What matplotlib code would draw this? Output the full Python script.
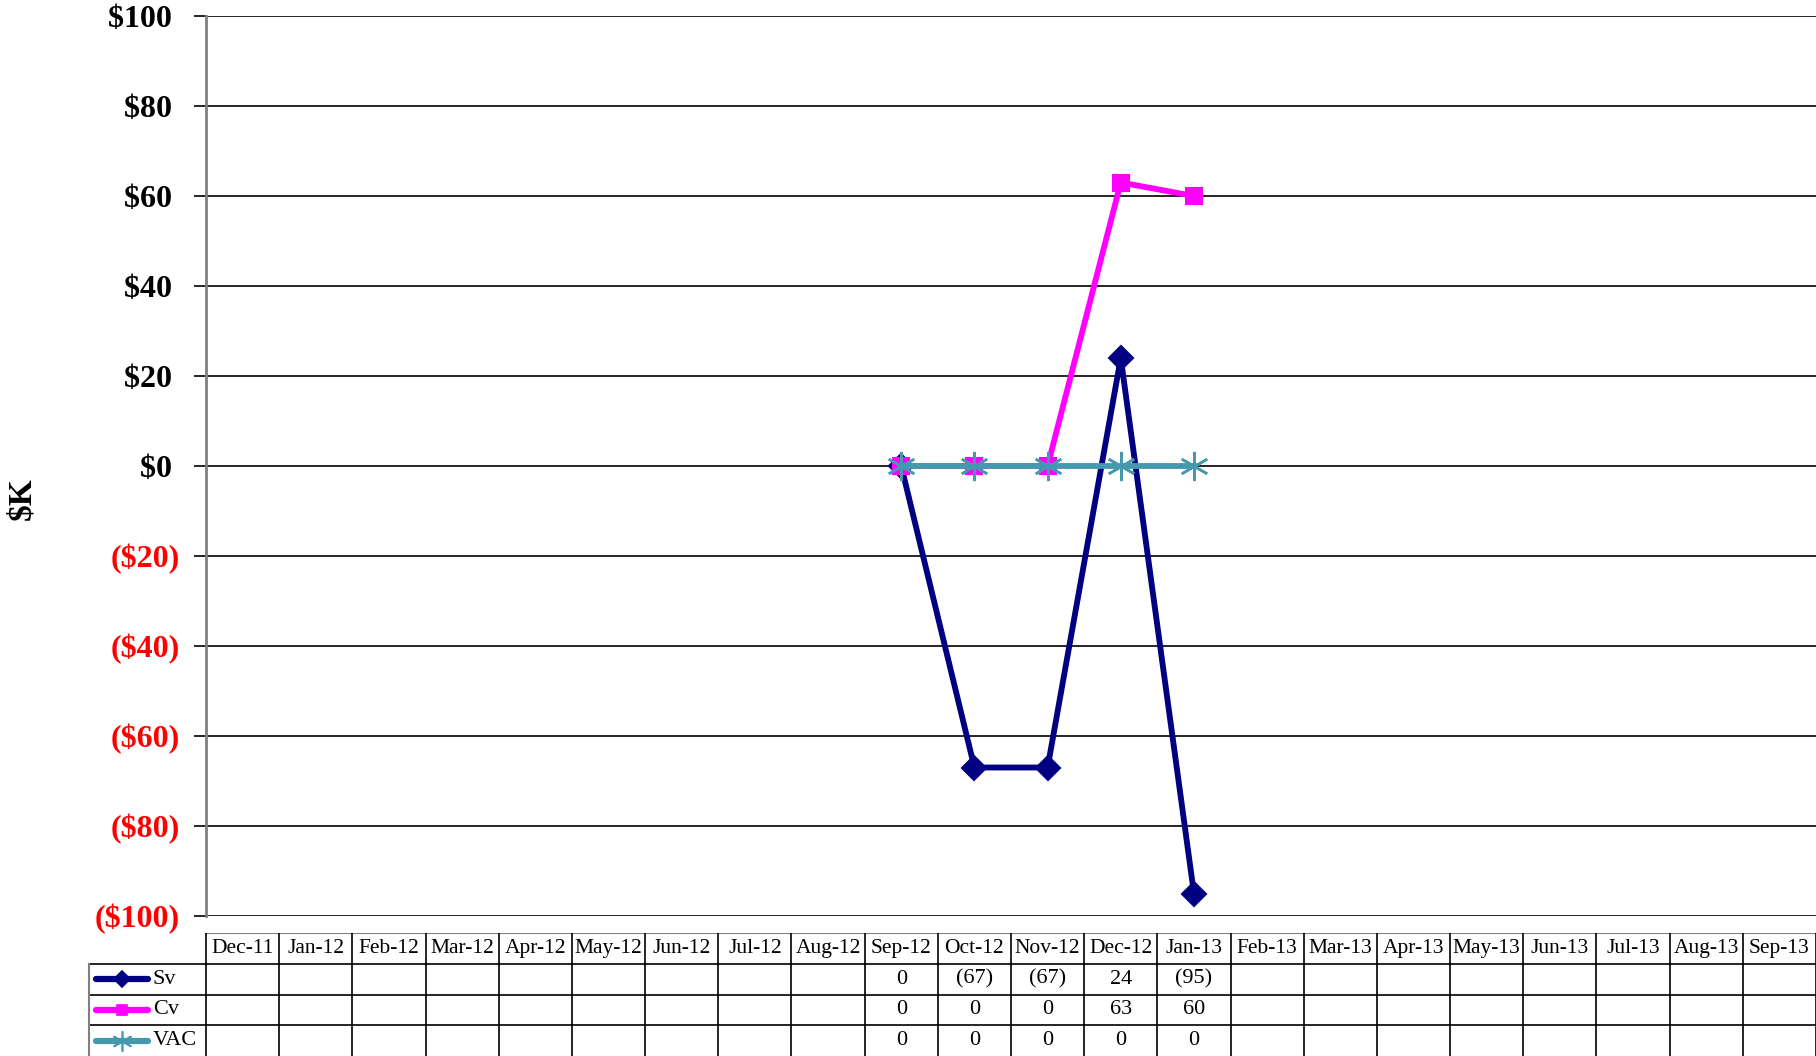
import numpy as np
import matplotlib
matplotlib.use('Agg')
import matplotlib.pyplot as plt

months = ['Dec-11', 'Jan-12', 'Feb-12', 'Mar-12', 'Apr-12', 'May-12', 'Jun-12',
          'Jul-12', 'Aug-12', 'Sep-12', 'Oct-12', 'Nov-12', 'Dec-12', 'Jan-13',
          'Feb-13', 'Mar-13', 'Apr-13', 'May-13', 'Jun-13', 'Jul-13', 'Aug-13', 'Sep-13']
nan = np.nan
sv = [nan]*9 + [0, -67, -67, 24, -95] + [nan]*8
cv = [nan]*9 + [0, 0, 0, 63, 60] + [nan]*8
vac = [nan]*9 + [0, 0, 0, 0, 0] + [nan]*8
yticks = [100, 80, 60, 40, 20, 0, -20, -40, -60, -80, -100]

plt.rcParams['font.family'] = ['Liberation Serif', 'DejaVu Serif']

W, H = 1816, 1056
fig = plt.figure(figsize=(W/100, H/100), dpi=100)

# plot area in pixels
L, R, T, B = 206, 1816, 16, 916
ax = fig.add_axes([L/W, (H-B)/H, (R-L)/W, (B-T)/H])
x = np.arange(len(months))

series = [
    ('Sv', sv, '#000080', 'D', 12, 1.5),
    ('Cv', cv, '#FF00FF', 's', 11, 1.5),
    ('VAC', vac, '#4599AE', (6, 2, 0), 21, 1.8),
]
for name, vals, col, mk, ms, mw in series:
    ax.plot(x, vals, color=col, lw=4.2, marker=mk, ms=ms, mec=col, mfc=col, mew=mw,
            clip_on=False, zorder=3)

ax.set_xlim(-0.5, len(months)-0.5)
ax.set_ylim(-100, 100)
ax.set_yticks(yticks)
for t in yticks:
    ax.axhline(t, color='black', lw=1.2, zorder=1)

labs = []
for t in yticks:
    if t < 0:
        labs.append('(${})'.format(-t))
    else:
        labs.append('${} '.format(t))
ax.set_yticklabels(labs, fontsize=23, fontweight='bold')
for lab, t in zip(ax.get_yticklabels(), yticks):
    lab.set_color('#FF0000' if t < 0 else 'black')
ax.tick_params(axis='y', length=9, width=1.2, pad=10)
ax.set_xticks([])
for s in ['top', 'right', 'bottom']:
    ax.spines[s].set_visible(False)
ax.spines['left'].set_color('#808080')
ax.spines['left'].set_linewidth(2)

fig.text(22/W, (H-499)/H, '$K', rotation=90, fontsize=24, fontweight='bold',
         ha='center', va='center')

# data table under the chart
colw = (R-L)/len(months)
tb_top = 933
tax = fig.add_axes([0, 0, 1, (H-tb_top)/H])
tax.set_xlim(-0.5 - L/colw, len(months)-0.5)
tax.set_ylim(0, 4)
tax.axis('off')

leg_l = -0.5 - (L-89)/colw
gray = '#808080'
# horizontal lines
tax.plot([-0.5, len(months)-0.5], [4, 4], color=gray, lw=1.5)
for yy in [3, 2, 1]:
    tax.plot([leg_l, len(months)-0.5], [yy, yy], color='black', lw=1.2)
tax.plot([leg_l, leg_l], [0, 3], color=gray, lw=1.5)
for i in range(len(months)+1):
    tax.plot([i-0.5, i-0.5], [0, 4], color='black', lw=1.2)

for i, m in enumerate(months):
    tax.text(i, 3.5, m, ha='center', va='center', fontsize=15.5)

def fmt(v):
    if np.isnan(v):
        return ''
    v = int(round(v))
    return '({})'.format(-v) if v < 0 else str(v)

for r, (name, vals, col, mk, ms, mw) in enumerate(series):
    yy = 2.5 - r
    for i, v in enumerate(vals):
        tax.text(i, yy, fmt(v), ha='center', va='center', fontsize=16)
    x0 = leg_l + (96-89)/colw
    x1 = leg_l + (148-89)/colw
    tax.plot([x0, x1], [yy, yy], color=col, lw=4.5, solid_capstyle='round')
    tax.plot([(x0+x1)/2], [yy], color=col, marker=mk, ms=ms*0.7, mec=col, mfc=col, mew=1.2)
    tax.text(leg_l + (153-89)/colw, yy, name, ha='left', va='center', fontsize=16)

fig.savefig('out.png', dpi=100)
